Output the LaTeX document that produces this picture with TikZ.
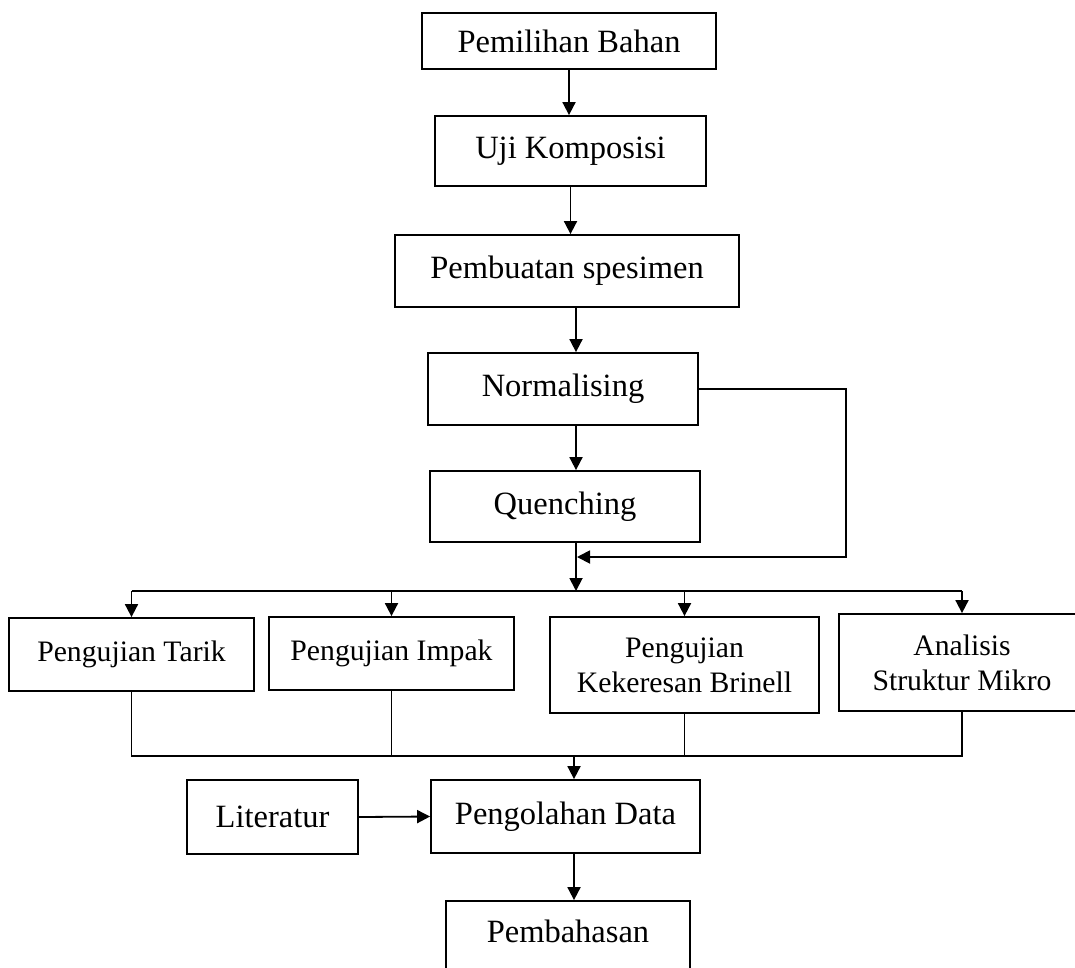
\documentclass[tikz,border=0pt]{standalone}
\usepackage{fontspec}
\setmainfont{Liberation Serif}
\usetikzlibrary{arrows.meta}
\begin{document}
\begin{tikzpicture}[x=1pt,y=-1pt,
  box/.style={draw, line width=1.8pt, inner sep=0pt, align=center, font=\fontsize{32.5}{38}\selectfont},
  sbox/.style={box, font=\fontsize{29.7}{35.3}\selectfont},
  conn/.style={line width=1.8pt},
  arr/.style={conn, -{Triangle[length=13pt,width=13pt]}}]
\useasboundingbox (0,0) rectangle (1075,967);
% nodes
\node[box, minimum width=294pt, minimum height=56pt] (b1) at (569,41) {Pemilihan Bahan};
\node[box, minimum width=271pt, minimum height=70pt] (b2) at (570.5,151) {Uji Komposisi};
\node[box, minimum width=344pt, minimum height=72pt] (b3) at (567,271) {Pembuatan spesimen};
\node[box, minimum width=270pt, minimum height=72pt] (b4) at (563,389) {Normalising};
\node[box, minimum width=270pt, minimum height=71pt] (b5) at (565,506.5) {Quenching};
\node[sbox, minimum width=245pt, minimum height=73pt] (t1) at (131.5,654.5) {Pengujian Tarik};
\node[sbox, minimum width=245pt, minimum height=73pt] (t2) at (391.5,653.5) {Pengujian Impak};
\node[sbox, minimum width=269pt, minimum height=96pt] (t3) at (684.5,665) {Pengujian\\Kekeresan Brinell};
\node[sbox, minimum width=246pt, minimum height=97pt] (t4) at (962,662.5) {Analisis\\Struktur Mikro};
\node[box, minimum width=171pt, minimum height=74pt] (lit) at (272.5,817) {Literatur};
\node[box, minimum width=269pt, minimum height=73pt] (pd) at (565.5,816.5) {Pengolahan Data};
\node[box, minimum width=244pt, minimum height=78pt, text depth=18pt] (pb) at (568,940) {Pembahasan};
% helper coordinates
\coordinate (spine) at (576,0);
\coordinate (spineb) at (574,0);
\coordinate (bus) at (0,591);
\coordinate (col) at (0,756);
\coordinate (fbr) at (846,557);
% connectors
\draw[arr] (b1.south) -- (b1.south |- b2.north);
\draw[arr] (b2.south) -- (b2.south |- b3.north);
\draw[arr] (b3.south -| spine) -- (b4.north -| spine);
\draw[arr] (b4.south -| spine) -- (b5.north -| spine);
\draw[arr] (b5.south -| spine) -- (spine |- bus);
\draw[arr] (b4.east) -| (fbr) -- ([xshift=1pt]fbr -| spine);
\draw[conn] (t1.north |- bus) -- (t4.north |- bus);
\draw[arr] (t1.north |- bus) -- (t1.north);
\draw[arr] (t2.north |- bus) -- (t2.north);
\draw[arr] (t3.north |- bus) -- (t3.north);
\draw[arr] (t4.north |- bus) -- (t4.north);
\draw[conn] (t1.south) -- (t1.south |- col) -- (t4.south |- col) -- (t4.south);
\draw[conn] (t2.south) -- (t2.south |- col);
\draw[conn] (t3.south) -- (t3.south |- col);
\draw[arr] (spineb |- col) -- (pd.north -| spineb);
\draw[arr] (lit.east) -- (pd.west);
\draw[arr] (pd.south -| spineb) -- (pb.north -| spineb);
\end{tikzpicture}
\end{document}
